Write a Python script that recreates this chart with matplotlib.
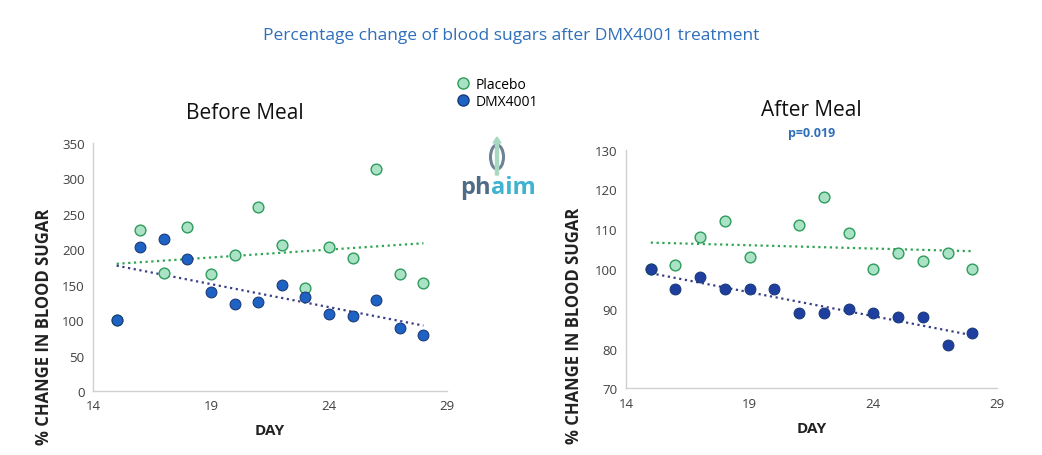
import numpy as np
import matplotlib.pyplot as plt
from matplotlib.lines import Line2D
import matplotlib.patches as patches

# data
days = [15, 16, 17, 18, 19, 20, 21, 22, 23, 24, 25, 26, 27, 28]
before_placebo = [100, 227, 167, 231, 165, 192, 260, 206, 146, 203, 188, 314, 165, 152]
before_dmx = [100, 203, 214, 186, 139, 123, 126, 150, 132, 109, 106, 128, 89, 79]

after_days_placebo = [15, 16, 17, 18, 19, 21, 22, 23, 24, 25, 26, 27, 28]
after_placebo = [100, 101, 108, 112, 103, 111, 118, 109, 100, 104, 102, 104, 100]
after_dmx = [100, 95, 98, 95, 95, 95, 89, 89, 90, 89, 88, 88, 81, 84]

x_ticks = [14, 19, 24, 29]
before_yticks = [0, 50, 100, 150, 200, 250, 300, 350]
after_yticks = [70, 80, 90, 100, 110, 120, 130]

# style
PLACEBO_FACE = "#A9E2C4"
PLACEBO_EDGE = "#2E9B5C"
PLACEBO_TREND = "#2EA552"
DMX_FACE_LEFT = "#1E63C4"
DMX_FACE_RIGHT = "#1F3FA0"
DMX_EDGE = "#1A3A7A"
DMX_TREND = "#3B3F86"
TITLE_BLUE = "#2F6FBA"
TICK_COLOR = "#404040"
SPINE_COLOR = "#D0D0D0"
FONT = "Open Sans"

plt.rcParams["font.family"] = [FONT, "DejaVu Sans"]


def trend(ax, x, y, color):
    k, b = np.polyfit(x, y, 1)
    xs = np.array([min(x), max(x)])
    ax.plot(xs, k * xs + b, linestyle=(0, (1, 1.6)), color=color, linewidth=1.6, zorder=2)


def style_axes(ax, yticks, ylab_pos):
    ax.set_xlim(14, 29)
    ax.set_xticks(x_ticks)
    ax.set_ylim(yticks[0], yticks[-1])
    ax.set_yticks(yticks)
    for s in ["top", "right"]:
        ax.spines[s].set_visible(False)
    for s in ["left", "bottom"]:
        ax.spines[s].set_color(SPINE_COLOR)
        ax.spines[s].set_linewidth(1.0)
    ax.tick_params(length=0, labelsize=9.5, labelcolor=TICK_COLOR, pad=6)
    ax.set_xlabel("DAY", fontsize=11, fontweight="bold", color="#222222", labelpad=8)
    ax.set_ylabel("% CHANGE IN BLOOD SUGAR", fontsize=12, fontweight="bold",
                  color="#222222")
    # the y label sits lower than the axes centre in the original
    ax.yaxis.set_label_coords(*ylab_pos)


fig = plt.figure(figsize=(10.42, 4.56), dpi=100)

ax1 = fig.add_axes([0.0893, 0.1404, 0.3397, 0.5438])
ax2 = fig.add_axes([0.6008, 0.1463, 0.356, 0.5232])

# before meal
ax1.scatter(days, before_placebo, s=60, facecolor=PLACEBO_FACE, edgecolor=PLACEBO_EDGE,
            linewidth=1.0, zorder=3)
ax1.scatter(days, before_dmx, s=60, facecolor=DMX_FACE_LEFT, edgecolor=DMX_EDGE,
            linewidth=0.8, zorder=4)
trend(ax1, days, before_placebo, PLACEBO_TREND)
trend(ax1, days, before_dmx, DMX_TREND)
style_axes(ax1, before_yticks, (-0.113, 0.262))

# after meal
ax2.scatter(after_days_placebo, after_placebo, s=60, facecolor=PLACEBO_FACE,
            edgecolor=PLACEBO_EDGE, linewidth=1.0, zorder=3)
ax2.scatter(days, after_dmx, s=60, facecolor=DMX_FACE_RIGHT, edgecolor=DMX_EDGE,
            linewidth=0.8, zorder=4)
trend(ax2, after_days_placebo, after_placebo, PLACEBO_TREND)
trend(ax2, days, after_dmx, DMX_TREND)
style_axes(ax2, after_yticks, (-0.116, 0.265))

# titles
fig.text(0.491, 0.921, "Percentage change of blood sugars after DMX4001 treatment",
         ha="center", va="center", fontsize=12.5, color=TITLE_BLUE)
fig.text(0.235, 0.752, "Before Meal", ha="center", va="center", fontsize=15, color="#111111")
fig.text(0.779, 0.757, "After Meal", ha="center", va="center", fontsize=15, color="#111111")
fig.text(0.779, 0.708, "p=0.019", ha="center", va="center", fontsize=9,
         fontweight="bold", color=TITLE_BLUE)

# legend
handles = [
    Line2D([], [], marker="o", linestyle="none", markersize=8,
           markerfacecolor=PLACEBO_FACE, markeredgecolor=PLACEBO_EDGE),
    Line2D([], [], marker="o", linestyle="none", markersize=8,
           markerfacecolor=DMX_FACE_LEFT, markeredgecolor=DMX_EDGE),
]
fig.legend(handles, ["Placebo", "DMX4001"], loc="upper left", bbox_to_anchor=(0.428, 0.85),
           frameon=False, fontsize=10, handletextpad=0.4, labelspacing=0.1,
           handlelength=1.0, borderpad=0.2)

# logo
W, H = 1042, 456
ell = patches.Ellipse((497 / W, 1 - 158 / H), 13 / W, 24 / H, transform=fig.transFigure,
                      fill=False, edgecolor="#6E8296", linewidth=2.2)
fig.add_artist(ell)
fig.add_artist(patches.FancyArrow(497 / W, 1 - 176 / H, 0, 38 / H, width=3 / W,
                                  head_width=8 / W, head_length=6 / H,
                                  transform=fig.transFigure, color="#A8D8C0",
                                  length_includes_head=True))
fig.text(491 / W, 1 - 188 / H, "ph", ha="right", va="center", fontsize=17,
         fontweight="bold", color="#4F6C86")
fig.text(491 / W, 1 - 188 / H, "aim", ha="left", va="center", fontsize=17,
         fontweight="bold", color="#3FB3D0")

fig.savefig("out.png", dpi=100)
